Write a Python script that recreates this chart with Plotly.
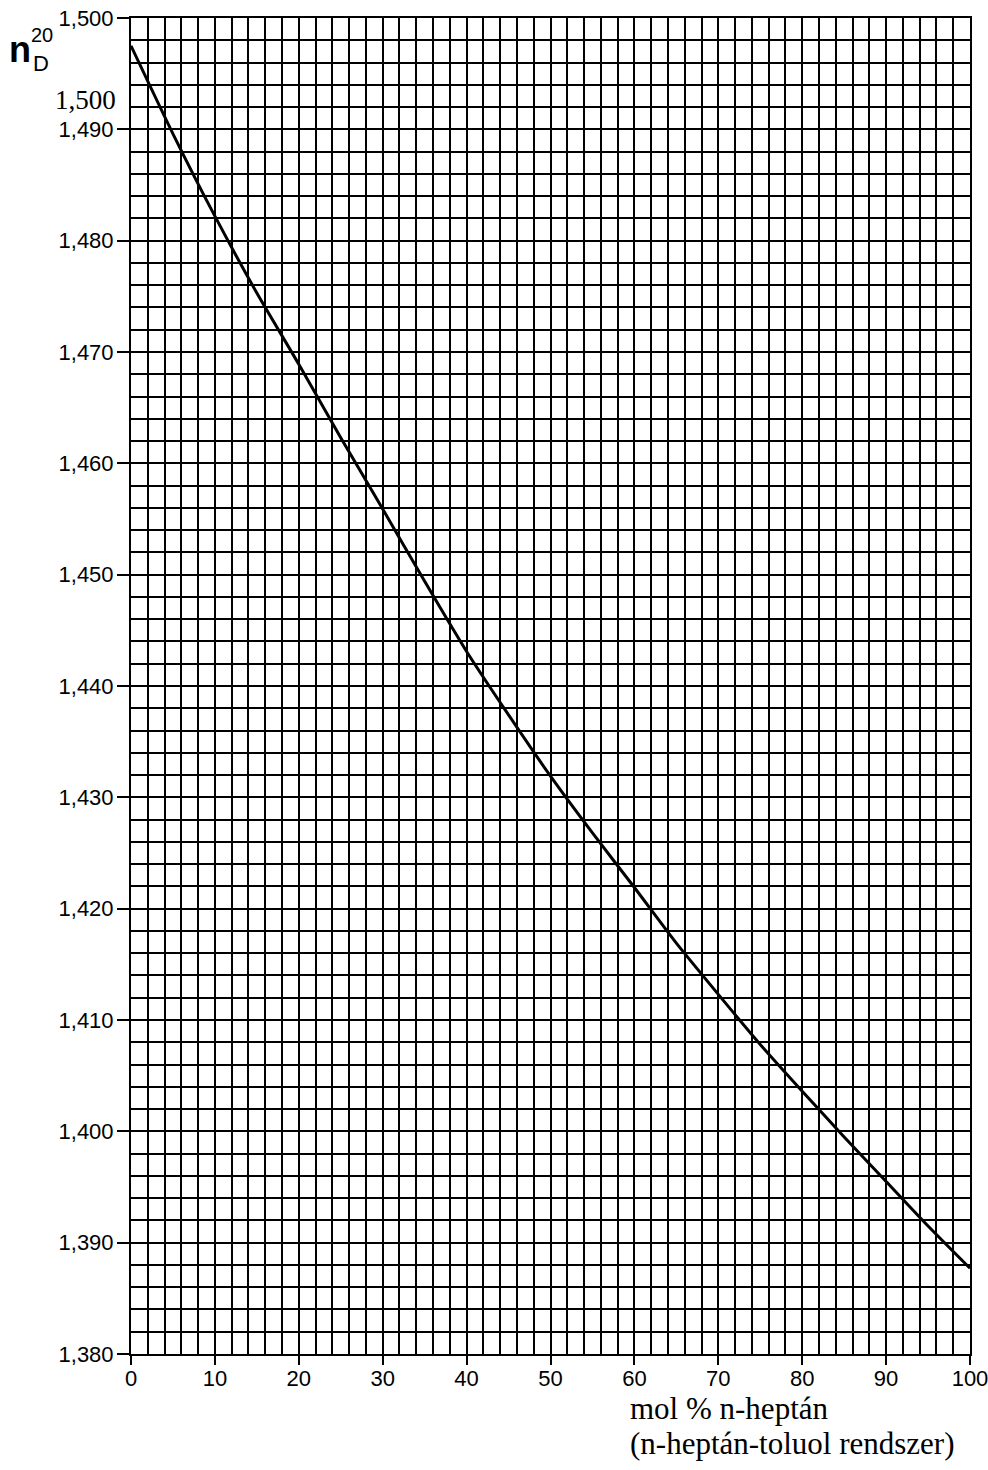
import plotly.graph_objects as go

# ---- data ----
mol_pct_heptane = [0, 5, 10, 15, 20, 25, 30, 35, 40, 45, 50, 55, 60, 65, 70, 75, 80, 85, 90, 95, 100]
refractive_index = [1.4975, 1.4896, 1.4822, 1.4753, 1.4689, 1.4623, 1.4559, 1.4494, 1.4431, 1.4374, 1.4319,
                    1.4268, 1.4219, 1.4169, 1.4123, 1.4078, 1.4036, 1.3995, 1.3955, 1.3915, 1.3877]

x_tickvals = [0, 10, 20, 30, 40, 50, 60, 70, 80, 90, 100]
x_ticktext = ["0", "10", "20", "30", "40", "50", "60", "70", "80", "90", "100"]
y_tickvals = [1.380, 1.390, 1.400, 1.410, 1.420, 1.430, 1.440, 1.450, 1.460, 1.470, 1.480, 1.490, 1.500]
y_ticktext = ["1,380", "1,390", "1,400", "1,410", "1,420", "1,430", "1,440", "1,450",
              "1,460", "1,470", "1,480", "1,490", "1,500"]

W, H = 988, 1470
L, R, T, B = 131, 18, 18, 116
PW, PH = W - L - R, H - T - B


def px(xp):
    return (xp - L) / PW


def py(yp):
    return (H - B - yp) / PH


fig = go.Figure()
fig.add_trace(go.Scatter(
    x=mol_pct_heptane, y=refractive_index, mode="lines",
    line=dict(color="black", width=3, shape="spline", smoothing=0.6),
    showlegend=False, hoverinfo="skip"))

tickfont = dict(family="Liberation Sans, Arial, sans-serif", size=22, color="black")
fig.update_xaxes(
    range=[0, 100], tickvals=x_tickvals, ticktext=x_ticktext,
    showgrid=True, gridcolor="black", gridwidth=2,
    minor=dict(dtick=2, showgrid=True, gridcolor="black", gridwidth=2),
    ticks="outside", ticklen=9, tickwidth=2, tickcolor="black",
    ticklabelstandoff=-5, ticklabeloverflow="allow", automargin=False,
    showline=True, linecolor="black", linewidth=2, mirror=True,
    tickfont=tickfont, zeroline=False, fixedrange=True)
fig.update_yaxes(
    range=[1.380, 1.500], tickvals=y_tickvals, ticktext=y_ticktext,
    showgrid=True, gridcolor="black", gridwidth=2,
    minor=dict(dtick=0.002, tick0=1.380, showgrid=True, gridcolor="black", gridwidth=2),
    ticks="outside", ticklen=12, tickwidth=2, tickcolor="black",
    ticklabelstandoff=-1, ticklabeloverflow="allow", automargin=False,
    showline=True, linecolor="black", linewidth=2, mirror=True,
    tickfont=tickfont, zeroline=False, fixedrange=True)

sans = "Liberation Sans, Arial, sans-serif"
serif = "Liberation Serif, Times New Roman, serif"
annotations = [
    dict(text="<b>n</b>", x=px(7), y=py(50), xanchor="left", yanchor="middle",
         font=dict(family=sans, size=36, color="black")),
    dict(text="D", x=px(31), y=py(64), xanchor="left", yanchor="middle",
         font=dict(family=sans, size=22, color="black")),
    dict(text="20", x=px(29), y=py(35), xanchor="left", yanchor="middle",
         font=dict(family=sans, size=20, color="black")),
    dict(text="1,500", x=px(118), y=py(100), xanchor="right", yanchor="middle",
         font=dict(family=serif, size=27, color="black")),
    dict(text="mol % n-heptán", x=px(628), y=py(1408), xanchor="left", yanchor="middle",
         font=dict(family=serif, size=31, color="black")),
    dict(text="(n-heptán-toluol rendszer)", x=px(628), y=py(1443), xanchor="left", yanchor="middle",
         font=dict(family=serif, size=31, color="black")),
]
for a in annotations:
    a.update(xref="paper", yref="paper", showarrow=False)

fig.update_layout(
    width=W, height=H, margin=dict(l=L, r=R, t=T, b=B, autoexpand=False),
    paper_bgcolor="white", plot_bgcolor="white",
    annotations=annotations, showlegend=False)

fig.write_html("out.html")
